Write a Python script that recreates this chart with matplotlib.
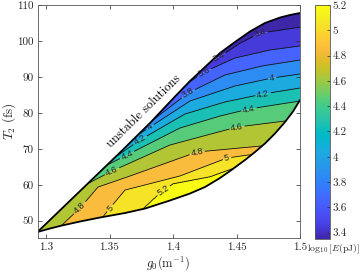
import numpy as np
import matplotlib
matplotlib.use('Agg')
import matplotlib.pyplot as plt
from matplotlib.colors import ListedColormap, Normalize
from matplotlib.cm import ScalarMappable
from matplotlib.path import Path
from matplotlib.patches import PathPatch

plt.rcParams['font.family'] = 'serif'
plt.rcParams['font.serif'] = ['cmr10']
plt.rcParams['mathtext.fontset'] = 'cm'
plt.rcParams['axes.formatter.use_mathtext'] = True

# ---------------- data ----------------
levels = [3.4, 3.6, 3.8, 4.0, 4.2, 4.4, 4.6, 4.8, 5.0, 5.2]

g0_34 = [1.2933, 1.4252, 1.4362, 1.4528, 1.4685, 1.5]
T2_34 = [68.28, 93.31, 95.54, 99.43, 102.21, 103.88]
g0_36 = [1.2933, 1.4039, 1.4244, 1.4488, 1.4764, 1.5]
T2_36 = [65.49, 86.36, 91.36, 95.26, 97.48, 98.60]
g0_38 = [1.2933, 1.3803, 1.4118, 1.4409, 1.4701, 1.5]
T2_38 = [62.71, 76.90, 85.52, 90.53, 93.03, 94.70]
g0_40 = [1.2933, 1.3685, 1.3819, 1.4134, 1.4488, 1.4780, 1.5]
T2_40 = [59.93, 73.00, 76.06, 83.30, 87.47, 89.69, 90.81]
g0_42 = [1.2933, 1.3535, 1.3740, 1.4094, 1.4409, 1.4709, 1.5]
T2_42 = [57.15, 67.44, 72.45, 79.68, 83.02, 85.24, 86.91]
g0_44 = [1.2933, 1.3433, 1.3638, 1.4055, 1.4370, 1.4598, 1.5]
T2_44 = [54.37, 64.66, 68.28, 75.79, 79.12, 81.07, 83.30]
g0_46 = [1.2933, 1.3307, 1.3520, 1.3976, 1.4504, 1.4882, 1.5]
T2_46 = [51.59, 59.93, 63.82, 71.06, 76.06, 77.73, 78.29]
g0_48 = [1.2933, 1.3126, 1.3268, 1.3409, 1.3661, 1.4189, 1.4701, 1.5]
T2_48 = [43.24, 48.80, 53.53, 59.37, 62.43, 69.11, 70.78, 71.61]
g0_50 = [1.2933, 1.3441, 1.3504, 1.3622, 1.4055, 1.4425, 1.4591, 1.5]
T2_50 = [39.07, 50.75, 53.53, 58.54, 62.43, 67.44, 68.28, 69.11]
g0_52 = [1.2933, 1.3764, 1.3874, 1.4000, 1.4291, 1.4465, 1.5]
T2_52 = [34.90, 53.25, 56.87, 60.21, 62.16, 64.38, 66.89]

# stability boundaries
g0_upper = [1.2933, 1.3268, 1.3583, 1.3819, 1.4016, 1.4134, 1.4252, 1.4370, 1.4488,
            1.4606, 1.4724, 1.4843, 1.4921, 1.5]
T2_upper = [46.86, 58.26, 68.97, 77.18, 84.55, 88.86, 92.75, 96.65, 99.71,
            102.63, 104.99, 106.52, 107.22, 107.77]
g0_lower = [1.2933, 1.3031, 1.3126, 1.3268, 1.3425, 1.3622, 1.3780, 1.3976, 1.4134, 1.4252,
            1.4370, 1.4449, 1.4567, 1.4646, 1.4724, 1.4803, 1.4882, 1.4945, 1.5]
T2_lower = [46.86, 47.83, 48.67, 49.78, 50.89, 52.14, 53.39, 55.62, 57.57, 59.37,
            61.88, 63.82, 66.89, 69.11, 71.47, 74.26, 77.45, 80.38, 83.57]

# label positions (g0, T2)
label_pos = [(1.4362, 95.54), (1.4685, 102.77), (1.4244, 91.36), (1.4118, 85.52),
             (1.3819, 76.06), (1.4780, 89.69), (1.3740, 72.45), (1.4709, 85.24),
             (1.3638, 68.28), (1.4598, 81.07), (1.3520, 63.82), (1.4504, 76.06),
             (1.3268, 53.53), (1.4189, 69.11), (1.3504, 53.53), (1.4425, 67.44),
             (1.3921, 58.54)]

x_ticks = [1.3, 1.35, 1.4, 1.45, 1.5]
y_ticks = [50, 60, 70, 80, 90, 100, 110]
cbar_ticks = [3.4, 3.6, 3.8, 4.0, 4.2, 4.4, 4.6, 4.8, 5.0, 5.2]
clim = (3.35, 5.2)

# ---------------- colormap (parula) ----------------
parula = [
    (0.2422, 0.1504, 0.6603), (0.2647, 0.1978, 0.7952), (0.2783, 0.2559, 0.8991),
    (0.2813, 0.3006, 0.9414), (0.2795, 0.3447, 0.9717), (0.2699, 0.3892, 0.9906),
    (0.2440, 0.4358, 0.9988), (0.1963, 0.4847, 0.9892), (0.1786, 0.5289, 0.9682),
    (0.1687, 0.5703, 0.9359), (0.1460, 0.6091, 0.9079), (0.1248, 0.6459, 0.8883),
    (0.0952, 0.6798, 0.8598), (0.0297, 0.7082, 0.8163), (0.0067, 0.7312, 0.7660),
    (0.0964, 0.7500, 0.7120), (0.1717, 0.7670, 0.6554), (0.2161, 0.7843, 0.5923),
    (0.2906, 0.7973, 0.5188), (0.3909, 0.8029, 0.4354), (0.5044, 0.7993, 0.3480),
    (0.6174, 0.7876, 0.2612), (0.7242, 0.7698, 0.1910), (0.8203, 0.7498, 0.1535),
    (0.9035, 0.7330, 0.1774), (0.9728, 0.7298, 0.2394), (0.9970, 0.7659, 0.2199),
    (0.9892, 0.8136, 0.1885), (0.9676, 0.8639, 0.1643), (0.9597, 0.9135, 0.1423),
    (0.9691, 0.9606, 0.1064), (0.9769, 0.9839, 0.0805)]
xs_c = np.linspace(0, 1, len(parula))
fine = np.linspace(0, 1, 256)
cmap = ListedColormap(np.array([np.interp(fine, xs_c, np.array(parula)[:, i]) for i in range(3)]).T)
norm = Normalize(*clim)

# ---------------- field built from the contour lines ----------------
lines = [(g0_34, T2_34), (g0_36, T2_36), (g0_38, T2_38), (g0_40, T2_40), (g0_42, T2_42),
         (g0_44, T2_44), (g0_46, T2_46), (g0_48, T2_48), (g0_50, T2_50), (g0_52, T2_52)]
gx = np.linspace(min(g0_upper), 1.5, 700)
gy = np.linspace(40, 112, 700)
ys = np.array([np.interp(gx, lx, ly) for lx, ly in lines])
for k in range(1, len(levels)):
    ys[k] = np.minimum(ys[k], ys[k - 1] - 1e-4)
lev = np.array(levels)
Z = np.empty((gy.size, gx.size))
for j in range(gx.size):
    Z[:, j] = np.interp(gy, ys[::-1, j], lev[::-1], left=5.35, right=3.36)
GX, GY = np.meshgrid(gx, gy)

# ---------------- figure ----------------
W, H = 361, 273
fig = plt.figure(figsize=(W / 100, H / 100), dpi=100)
ax = fig.add_axes([37.5 / W, 1 - 238 / H, (300 - 37.5) / W, 233 / H])

fill_levels = [3.0] + levels + [5.8]
band_colors = [cmap(0.0)] + [cmap(norm(min(v + 0.05, clim[1]))) for v in levels]
cf = ax.contourf(GX, GY, Z, levels=fill_levels, colors=band_colors, antialiased=True)
cs = ax.contour(GX, GY, Z, levels=levels, colors='k', linewidths=0.55)

ux = np.linspace(min(g0_upper), 1.5, 400)
poly_x = np.concatenate([ux, ux[::-1]])
poly_y = np.concatenate([np.interp(ux, g0_upper, T2_upper), np.interp(ux[::-1], g0_lower, T2_lower)])
patch = PathPatch(Path(np.column_stack([poly_x, poly_y])), facecolor='none', edgecolor='none',
                  transform=ax.transData)
ax.add_patch(patch)
cf.set_clip_path(patch)
cs.set_clip_path(patch)

txts = ax.clabel(cs, levels, manual=label_pos, inline=True, inline_spacing=2,
                 fmt=lambda v: f'{v:g}', fontsize=6.5)
for t in txts:
    t.set_fontfamily('Liberation Sans')
    t.set_color('#262626')

ax.plot(g0_upper, T2_upper, color='k', lw=1.3, solid_capstyle='round', solid_joinstyle='round')
ax.plot(g0_lower, T2_lower, color='k', lw=1.3, solid_capstyle='round', solid_joinstyle='round')

ax.text(1.3770, 80.3, 'unstable solutions', rotation=44.5, ha='center', va='center',
        fontsize=9, color='k')

ax.set_xlim(min(g0_upper), 1.5)
ax.set_ylim(45.19, 110)
ax.set_xticks(x_ticks)
ax.set_xticklabels([f'{v:g}' for v in x_ticks])
ax.set_yticks(y_ticks)
ax.set_yticklabels([f'{v:g}' for v in y_ticks])
ax.tick_params(direction='in', length=3, width=0.5, top=True, right=True,
               labelsize=8, colors='#262626', pad=3)
for s in ax.spines.values():
    s.set_linewidth(0.6)
    s.set_color('#555555')
ax.set_xlabel(r'$g_0(\mathrm{m}^{-1})$', fontsize=9, color='#262626')
ax.xaxis.set_label_coords(0.5, -0.07)
ax.set_ylabel(r'$T_2\ (\mathrm{fs})$', fontsize=9.5, color='#262626')
ax.yaxis.set_label_coords(-0.074, 0.5)

cax = fig.add_axes([315 / W, 1 - 239 / H, 15 / W, 234 / H])
sm = ScalarMappable(norm=norm, cmap=cmap)
cb = fig.colorbar(sm, cax=cax, ticks=cbar_ticks)
cb.ax.set_yticklabels([f'{v:g}' for v in cbar_ticks])
cb.ax.tick_params(direction='in', length=2, width=0.5, labelsize=8, colors='#262626', pad=2)
cb.outline.set_linewidth(0.6)
cb.outline.set_edgecolor('#555555')
fig.text(360 / W, 1 - 249 / H, r'$\log_{10}[E(\mathrm{pJ})]$', ha='right', va='center',
         fontsize=7, color='#262626')

fig.savefig('out.png', dpi=100)
